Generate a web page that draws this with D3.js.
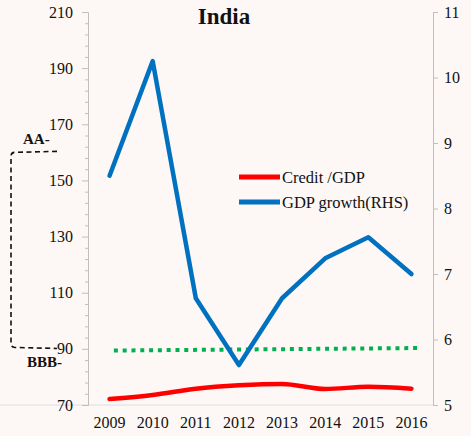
<!DOCTYPE html>
<html>
<head>
<meta charset="utf-8">
<script src="https://cdn.jsdelivr.net/npm/d3@7"></script>
<style>
  body { margin: 0; background: #fdf8f5; }
  svg, svg text { font-family: "Liberation Serif", "Times New Roman", serif; }
</style>
</head>
<body>
<div id="chart"></div>
<script>
// data
const years = [2009, 2010, 2011, 2012, 2013, 2014, 2015, 2016];
const creditGdp = [72.1, 73.6, 75.8, 77.0, 77.5, 75.7, 76.5, 75.8];
const gdpGrowth = [8.5, 10.25, 6.63, 5.61, 6.63, 7.24, 7.56, 7.0];
const thresholdLine = [{ year: 2009.1, v: 89.4 }, { year: 2016.2, v: 90.3 }];
const leftTicks = [70, 90, 110, 130, 150, 170, 190, 210];
const rightTicks = [5, 6, 7, 8, 9, 10, 11];
const ratingTop = { label: "AA-", v: 160 };
const ratingBottom = { label: "BBB-", v: 90.5 };

const width = 471, height = 436;
const margin = { top: 12, right: 38, bottom: 31, left: 88 };
const serif = '"Liberation Serif", "Times New Roman", serif';

const svg = d3.select('#chart')
    .append('svg')
    .attr('width', width)
    .attr('height', height)
    .style('display', 'block');

svg.append('rect')
    .attr('width', width)
    .attr('height', height)
    .attr('fill', '#fdf8f5');

const x = d3.scaleBand()
    .domain(years)
    .range([margin.left, width - margin.right]);
const xLin = d3.scaleLinear()
    .domain([years[0] - 0.5, years[years.length - 1] + 0.5])
    .range([margin.left, width - margin.right]);
const yL = d3.scaleLinear()
    .domain([70, 210])
    .range([height - margin.bottom, margin.top]);
const yR = d3.scaleLinear()
    .domain([5, 11])
    .range([height - margin.bottom, margin.top]);

const axisColor = '#bfbfbf';
const baseY = height - margin.bottom;
const cx = d => x(d) + x.bandwidth() / 2;

// bottom category line
svg.append('line')
    .attr('x1', 0).attr('x2', width - margin.right)
    .attr('y1', baseY).attr('y2', baseY)
    .attr('stroke', '#e4e6ea').attr('stroke-width', 1.5);

// left axis
const gL = svg.append('g')
    .attr('transform', `translate(${margin.left},0)`)
    .call(d3.axisLeft(yL).tickValues(leftTicks).tickSize(6).tickPadding(9));
gL.append('g')
    .call(d3.axisLeft(yL).tickValues(d3.range(74, 210, 4).filter(d => (d - 70) % 20 !== 0))
        .tickSize(3).tickFormat(''))
    .select('.domain').remove();

// right axis
const gR = svg.append('g')
    .attr('transform', `translate(${width - margin.right},0)`)
    .call(d3.axisRight(yR).tickValues(rightTicks).tickFormat(d3.format('d'))
        .tickSize(5).tickPadding(6));

[gL, gR].forEach(g => {
    g.attr('font-family', serif).attr('font-size', 16);
    g.selectAll('.domain, line').attr('stroke', axisColor);
    g.selectAll('text')
        .attr('fill', '#111')
        .attr('font-family', serif)
        .attr('font-size', 16);
});

// year labels
svg.append('g')
    .selectAll('text')
    .data(years)
    .enter()
    .append('text')
    .attr('x', d => cx(d))
    .attr('y', baseY + 23)
    .attr('text-anchor', 'middle')
    .attr('fill', '#111')
    .attr('font-family', serif)
    .attr('font-size', 16)
    .text(d => d);

// green dotted threshold
svg.append('path')
    .datum(thresholdLine)
    .attr('fill', 'none')
    .attr('stroke', '#00b050')
    .attr('stroke-width', 4)
    .attr('stroke-dasharray', '4,4.8')
    .attr('d', d3.line().x(d => xLin(d.year)).y(d => yL(d.v)));

// credit / gdp
svg.append('path')
    .datum(creditGdp)
    .attr('fill', 'none')
    .attr('stroke', '#ff0000')
    .attr('stroke-width', 4.5)
    .attr('stroke-linecap', 'round')
    .attr('d', d3.line().curve(d3.curveMonotoneX).x((d, i) => cx(years[i])).y(d => yL(d)));

// gdp growth (RHS)
svg.append('path')
    .datum(gdpGrowth)
    .attr('fill', 'none')
    .attr('stroke', '#0070c0')
    .attr('stroke-width', 4.5)
    .attr('stroke-linejoin', 'round')
    .attr('stroke-linecap', 'round')
    .attr('d', d3.line().x((d, i) => cx(years[i])).y(d => yR(d)));

// title
svg.append('text')
    .attr('x', 224)
    .attr('y', 24)
    .attr('text-anchor', 'middle')
    .attr('font-weight', 'bold')
    .attr('fill', '#111')
    .attr('font-family', serif)
    .attr('font-size', 23)
    .text('India');

// legend
const legend = [
    { name: 'Credit /GDP', color: '#ff0000' },
    { name: 'GDP growth(RHS)', color: '#0070c0' }
];
const lg = svg.append('g')
    .selectAll('g')
    .data(legend)
    .enter()
    .append('g')
    .attr('transform', (d, i) => `translate(239,${177 + i * 25})`);
lg.append('line')
    .attr('x1', 0).attr('x2', 41)
    .attr('stroke', d => d.color)
    .attr('stroke-width', 5);
lg.append('text')
    .attr('x', 43)
    .attr('y', 5.5)
    .attr('fill', '#111')
    .attr('font-family', serif)
    .attr('font-size', 16.5)
    .text(d => d.name);

// rating bracket
const bx0 = 11, bx1 = 57, r = 4;
const yt = yL(ratingTop.v), yb = yL(ratingBottom.v);
const p = d3.path();
p.moveTo(bx1, yt - 1);
p.lineTo(bx0 + r, yt);
p.quadraticCurveTo(bx0, yt, bx0, yt + r);
p.lineTo(bx0, yb - r);
p.quadraticCurveTo(bx0, yb, bx0 + r, yb);
p.lineTo(bx1, yb + 1);
svg.append('path')
    .attr('d', p.toString())
    .attr('fill', 'none')
    .attr('stroke', '#111')
    .attr('stroke-width', 1.6)
    .attr('stroke-dasharray', '5,3.5');

svg.append('text')
    .attr('x', 23).attr('y', yt - 8)
    .attr('font-weight', 'bold')
    .attr('fill', '#111')
    .attr('font-family', serif)
    .attr('font-size', 15)
    .text(ratingTop.label);
svg.append('text')
    .attr('x', 27).attr('y', yb + 20)
    .attr('font-weight', 'bold')
    .attr('fill', '#111')
    .attr('font-family', serif)
    .attr('font-size', 15)
    .text(ratingBottom.label);
</script>
</body>
</html>
